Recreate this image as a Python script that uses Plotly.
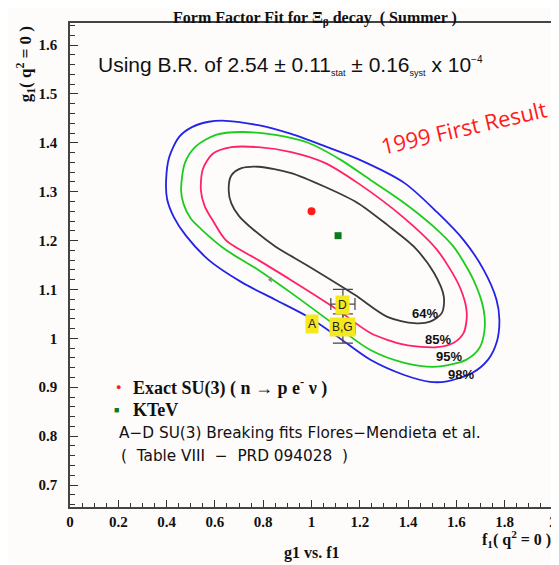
import plotly.graph_objects as go

# ---- contour curves (f1, g1) ----
c98_f1 = [0.398, 0.411, 0.452, 0.505, 0.575, 0.645, 0.780, 0.916, 1.055, 1.191, 1.384, 1.520, 1.630, 1.713,
          1.766, 1.778, 1.768, 1.732, 1.665, 1.561, 1.491, 1.384, 1.244, 1.109, 0.986, 0.850, 0.710, 0.575,
          0.480, 0.430, 0.402, 0.398]
c98_g1 = [1.324, 1.371, 1.412, 1.432, 1.443, 1.445, 1.436, 1.418, 1.393, 1.367, 1.318, 1.258, 1.201, 1.140,
          1.079, 1.038, 0.994, 0.957, 0.929, 0.912, 0.911, 0.925, 0.956, 1.003, 1.044, 1.079, 1.115, 1.160,
          1.210, 1.248, 1.285, 1.324]

c95_f1 = [0.460, 0.476, 0.522, 0.604, 0.710, 0.850, 0.986, 1.121, 1.244, 1.384, 1.507, 1.589, 1.671, 1.713,
          1.716, 1.694, 1.640, 1.520, 1.384, 1.244, 1.109, 0.916, 0.780, 0.645, 0.546, 0.500, 0.470, 0.460]
c95_g1 = [1.303, 1.359, 1.393, 1.416, 1.422, 1.416, 1.400, 1.365, 1.324, 1.277, 1.228, 1.187, 1.119, 1.058,
          1.015, 0.979, 0.956, 0.942, 0.950, 0.976, 1.023, 1.093, 1.140, 1.181, 1.222, 1.245, 1.275, 1.303]

c85_f1 = [0.542, 0.550, 0.590, 0.669, 0.780, 0.916, 1.055, 1.191, 1.384, 1.520, 1.614, 1.643, 1.630,
          1.589, 1.520, 1.384, 1.244, 1.109, 0.916, 0.780, 0.645, 0.595, 0.558, 0.542]
c85_g1 = [1.303, 1.346, 1.377, 1.391, 1.391, 1.381, 1.359, 1.318, 1.246, 1.181, 1.105, 1.052, 1.011,
          0.991, 0.982, 0.987, 1.011, 1.058, 1.119, 1.160, 1.201, 1.238, 1.270, 1.303]

c64_f1 = [0.657, 0.668, 0.710, 0.780, 0.916, 1.055, 1.191, 1.314, 1.425, 1.507, 1.548, 1.540, 1.491,
          1.425, 1.314, 1.179, 0.986, 0.850, 0.760, 0.700, 0.668, 0.657]
c64_g1 = [1.303, 1.333, 1.348, 1.351, 1.338, 1.310, 1.277, 1.232, 1.187, 1.134, 1.085, 1.052, 1.034,
          1.031, 1.044, 1.089, 1.148, 1.188, 1.222, 1.250, 1.276, 1.303]

contour_labels = ["64%", "85%", "95%", "98%"]
label_f1 = [1.470, 1.524, 1.569, 1.618]
label_g1 = [1.050, 0.997, 0.962, 0.927]

# ---- points ----
su3_f1, su3_g1 = [1.00], [1.26]
ktev_f1, ktev_g1 = [1.11], [1.21]

fit_names = ["A", "D", "B,G"]
fit_f1 = [1.00, 1.13, 1.13]
fit_g1 = [1.03, 1.068, 1.023]
errbar_f1 = [1.13, 1.13]
errbar_g1 = [1.07, 1.02]
errbar_dg1 = [0.03, 0.03]
errbar_df1 = [0.05, 0.05]

mark_f1, mark_g1 = [0.83], [1.12]

x_ticks = [0, 0.2, 0.4, 0.6, 0.8, 1, 1.2, 1.4, 1.6, 1.8, 2]
y_ticks = [0.7, 0.8, 0.9, 1, 1.1, 1.2, 1.3, 1.4, 1.5, 1.6]

SERIF = "Liberation Serif"
SANS = "Liberation Sans"

fig = go.Figure()
for fx, gy, col in [(c98_f1, c98_g1, "#2323e8"), (c95_f1, c95_g1, "#1ccc1c"),
                    (c85_f1, c85_g1, "#ff2266"), (c64_f1, c64_g1, "#3a3a3a")]:
    fig.add_trace(go.Scatter(x=fx, y=gy, mode="lines",
                             line=dict(color=col, width=1.8, shape="spline", smoothing=0.8),
                             showlegend=False, hoverinfo="skip"))

fig.add_trace(go.Scatter(x=errbar_f1, y=errbar_g1, mode="markers", marker=dict(size=1, color="rgba(0,0,0,0)"),
                         error_y=dict(type="data", array=errbar_dg1, color="#444", thickness=1.2, width=10),
                         error_x=dict(type="data", array=errbar_df1, color="#444", thickness=1.2, width=6),
                         showlegend=False))
fig.add_trace(go.Scatter(x=su3_f1, y=su3_g1, mode="markers",
                         marker=dict(color="#ff1a1a", size=8, symbol="circle"), showlegend=False))
fig.add_trace(go.Scatter(x=ktev_f1, y=ktev_g1, mode="markers",
                         marker=dict(color="#0b7a1e", size=7, symbol="square"), showlegend=False))
fig.add_trace(go.Scatter(x=mark_f1, y=mark_g1, mode="markers",
                         marker=dict(color="#888", size=5, symbol="triangle-left"), showlegend=False))

ann = []
for t, fx, gy in zip(fit_names, fit_f1, fit_g1):
    ann.append(dict(x=fx, y=gy, xref="x", yref="y", text=t, showarrow=False,
                    font=dict(family=SANS, size=12, color="#222"), bgcolor="#f5e81c", borderpad=2))
for t, fx, gy in zip(contour_labels, label_f1, label_g1):
    ann.append(dict(x=fx, y=gy, xref="x", yref="y", text=t, showarrow=False,
                    font=dict(family=SANS, size=13, color="#111", weight="bold")))

# page has an 8px body margin: figure is drawn 8px smaller and offset
W, H = 551, 557
L, R, T, B = 62, 2, 15, 58
pw, ph = W - L - R, H - T - B
def px(x): return (x - 8 - L) / pw
def py(y): return (H - B - (y - 8)) / ph

def pann(x, y, text, size, family, color="#111", weight="normal", xanchor="center", angle=0):
    ann.append(dict(x=px(x), y=py(y), xref="paper", yref="paper", text=text, showarrow=False,
                    xanchor=xanchor, yanchor="middle", textangle=angle,
                    font=dict(family=family, size=size, color=color, weight=weight)))

pann(317, 18.5, "Form Factor Fit for Ξ<sub>β</sub> decay  ( Summer )", 16, SERIF, weight="bold")
pann(96, 66, "Using B.R. of 2.54 ± 0.11<sub><span style='font-size:9px'>stat</span></sub> ± "
     "0.16<sub><span style='font-size:9px'>syst</span></sub> x 10<sup><span style='font-size:10px'>−4</span></sup>",
     21, SANS, xanchor="left")
pann(467, 127, "1999 First Result", 22, "Open Sans", color="#ff1a1a", angle=-13)
pann(119, 387, "●", 9, SANS, color="#ff1a1a")
pann(132, 387, "Exact SU(3) ( n → p e<sup>-</sup> ν )", 18, SERIF, weight="bold", xanchor="left")
pann(117, 410, "■", 9, SANS, color="#0b7a1e")
pann(132, 410, "KTeV", 18, SERIF, weight="bold", xanchor="left")
pann(117, 433, "A−D SU(3) Breaking fits Flores−Mendieta et al.", 15.3, "DejaVu Sans", xanchor="left")
pann(119, 456, "(  Table VIII  −  PRD 094028  )", 15.3, "DejaVu Sans", xanchor="left")
pann(25, 64, "g<sub>1</sub>( q<sup>2</sup> = 0 )", 17, SERIF, weight="bold", angle=-90)
pann(557, 539, "f<sub>1</sub>( q<sup>2</sup> = 0 )", 16, SERIF, weight="bold", xanchor="right")
pann(314, 553, "g1 vs. f1", 16, SERIF, weight="bold")

fig.update_layout(
    width=W, height=H, margin=dict(l=L, r=R, t=T, b=B),
    paper_bgcolor="#fefbfb", plot_bgcolor="#fefbfb",
    annotations=ann, showlegend=False,
    xaxis=dict(range=[0, 2], tickvals=x_ticks, ticks="inside", ticklen=7, tickwidth=1.2, tickcolor="#333",
               showgrid=False, zeroline=False, showline=True, linecolor="#444", linewidth=1.6, mirror=True,
               tickfont=dict(family=SERIF, size=15, color="#111", weight="bold"),
               minor=dict(dtick=0.05, tick0=0, ticks="inside", ticklen=4, tickcolor="#333")),
    yaxis=dict(range=[0.655, 1.645], tickvals=y_ticks, ticks="inside", ticklen=8, tickwidth=1.2, tickcolor="#333",
               showgrid=False, zeroline=False, showline=True, linecolor="#444", linewidth=1.6, mirror=True,
               ticklabelstandoff=8,
               tickfont=dict(family=SERIF, size=15, color="#111", weight="bold"),
               minor=dict(dtick=0.02, tick0=0.7, ticks="inside", ticklen=5, tickcolor="#333")),
)
fig.write_html("out.html")
